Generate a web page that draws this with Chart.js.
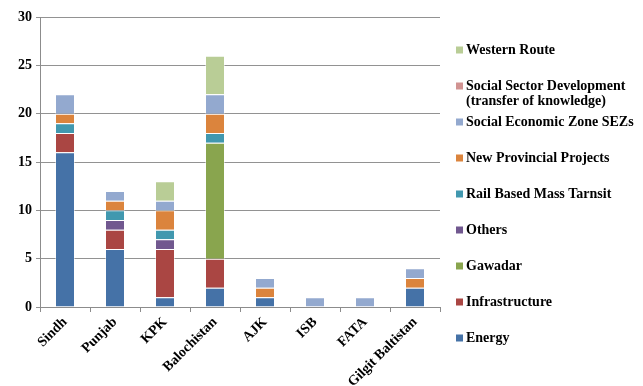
<!DOCTYPE html>
<html>
<head>
<meta charset="utf-8">
<script src="https://cdn.jsdelivr.net/npm/chart.js@4.4.1/dist/chart.umd.min.js"></script>
<style>
  html, body { margin: 0; padding: 0; background: #fff; }
  #wrap { width: 643px; height: 386px; }
</style>
</head>
<body>
<div id="wrap"><canvas id="cpecChart" width="643" height="386"></canvas></div>
<script>
const regions = ['Sindh', 'Punjab', 'KPK', 'Balochistan', 'AJK', 'ISB', 'FATA', 'Gilgit Baltistan'];

// projects per region, stacked bottom to top
const energy         = [16, 6, 1, 2, 1, 0, 0, 2];
const infrastructure = [2, 2, 5, 3, 0, 0, 0, 0];
const gawadar        = [0, 0, 0, 12, 0, 0, 0, 0];
const others         = [0, 1, 1, 0, 0, 0, 0, 0];
const railTransit    = [1, 1, 1, 1, 0, 0, 0, 0];
const provincial     = [1, 1, 2, 2, 1, 0, 0, 1];
const sezs           = [2, 1, 1, 2, 1, 1, 1, 1];
const socialSector   = [0, 0, 0, 0, 0, 0, 0, 0];
const westernRoute   = [0, 0, 2, 4, 0, 0, 0, 0];

const yTicks = [0, 5, 10, 15, 20, 25, 30];

const seriesNames = ['Energy', 'Infrastructure', 'Gawadar', 'Others', 'Rail Based Mass Tarnsit',
  'New Provincial Projects', 'Social Economic Zone SEZs',
  ['Social Sector Development', '(transfer of knowledge)'], 'Western Route'];
const seriesData = [energy, infrastructure, gawadar, others, railTransit, provincial, sezs, socialSector, westernRoute];
const seriesColors = ['#4572A7', '#AA4643', '#89A54E', '#71588F', '#4198AF', '#DB843D', '#93A9CF', '#D19392', '#B9CD96'];

const serif = '"Liberation Serif", "Times New Roman", serif';

// legend on the right, top item is the last dataset
const sideLegend = {
  id: 'sideLegend',
  afterDraw(chart) {
    const ctx = chart.ctx;
    const sets = chart.data.datasets.slice().reverse();
    ctx.save();
    ctx.font = 'bold 14px ' + serif;
    ctx.textBaseline = 'middle';
    ctx.textAlign = 'left';
    sets.forEach((ds, i) => {
      const y = 50 + i * 36;
      ctx.fillStyle = ds.backgroundColor;
      ctx.fillRect(456, y - 3.5, 7, 7);
      ctx.fillStyle = '#000';
      const lines = Array.isArray(ds.label) ? ds.label : [ds.label];
      lines.forEach((t, j) => ctx.fillText(t, 466, y + j * 15.5));
    });
    ctx.restore();
  }
};

new Chart(document.getElementById('cpecChart'), {
  type: 'bar',
  data: {
    labels: regions,
    datasets: seriesData.map((d, i) => ({
      label: seriesNames[i],
      data: d,
      backgroundColor: seriesColors[i],
      borderColor: 'rgba(255,255,255,0.45)',
      borderWidth: 1,
      barPercentage: 0.5,
      categoryPercentage: 0.8
    }))
  },
  options: {
    responsive: false,
    animation: false,
    layout: { padding: { top: 17, right: 203, left: 0, bottom: 0 } },
    plugins: {
      legend: { display: false },
      tooltip: { enabled: false }
    },
    scales: {
      x: {
        stacked: true,
        afterFit(scale) { scale.height = 79; },
        grid: { display: true, drawOnChartArea: false, offset: true, tickLength: 5, color: '#8c8c8c' },
        border: { color: '#8c8c8c' },
        ticks: {
          minRotation: 45,
          maxRotation: 45,
          color: '#000',
          padding: 2,
          font: { family: serif, size: 14, weight: 'bold' }
        }
      },
      y: {
        stacked: true,
        min: yTicks[0],
        max: yTicks[yTicks.length - 1],
        afterFit(scale) { scale.width = 40; },
        afterBuildTicks(scale) { scale.ticks = yTicks.map(v => ({ value: v })); },
        grid: { color: '#929292', tickLength: 4, drawTicks: true },
        border: { color: '#8c8c8c' },
        ticks: {
          color: '#000',
          padding: 4,
          font: { family: serif, size: 14, weight: 'bold' }
        }
      }
    }
  },
  plugins: [sideLegend]
});
</script>
</body>
</html>
